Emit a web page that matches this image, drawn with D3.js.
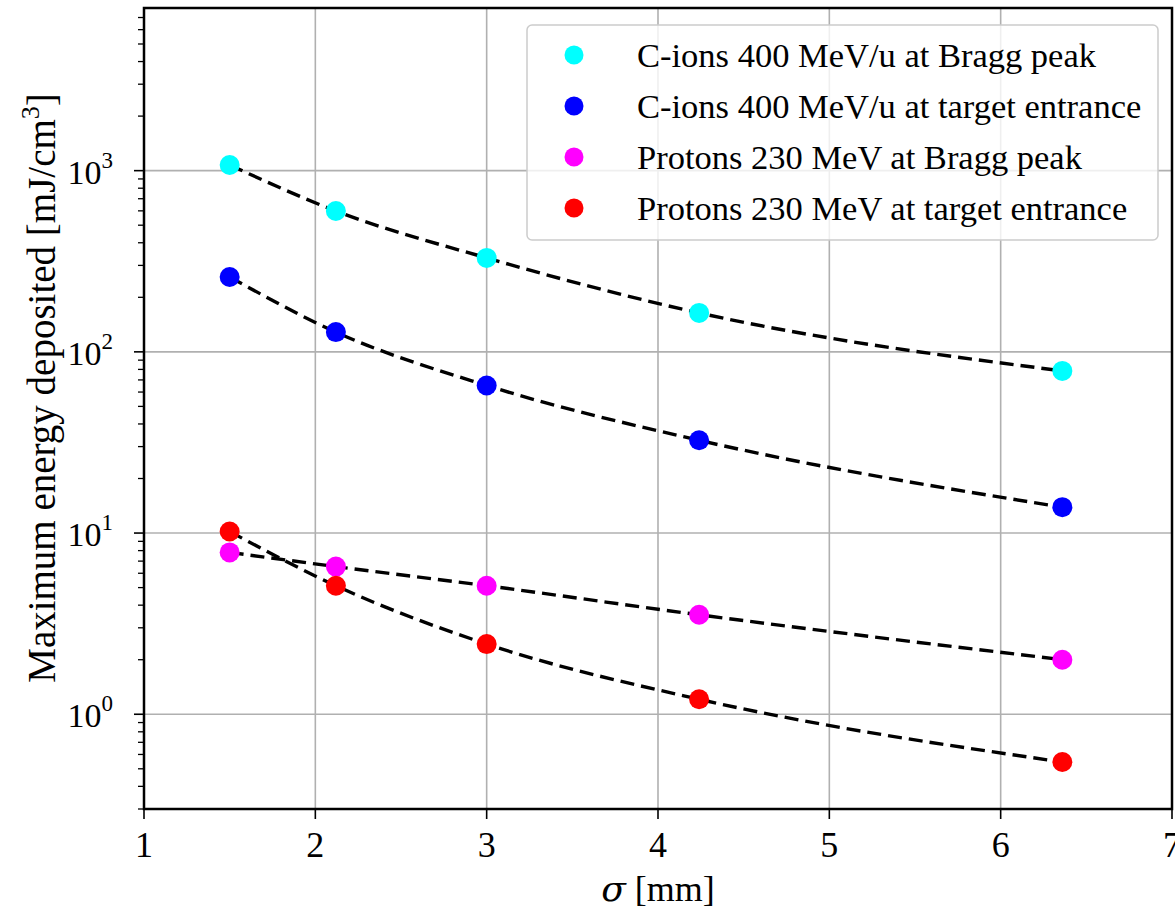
<!DOCTYPE html>
<html>
<head>
<meta charset="utf-8">
<script src="https://cdn.jsdelivr.net/npm/d3@7"></script>
<style>
  html, body { margin: 0; padding: 0; background: #fff; }
  svg { display: block; }
  text { font-family: "Liberation Serif", "Times New Roman", serif; fill: #000; }
</style>
</head>
<body>
<svg id="chart" width="1175" height="913"></svg>
<script>
// ---- data ----
const sigma = [1.5, 2.12, 3.0, 4.24, 6.36];
const cIonsBragg    = [1075, 599, 330, 164, 78.5];
const cIonsEntrance = [259, 128.5, 65.2, 32.5, 13.9];
const protonsBragg    = [7.82, 6.53, 5.12, 3.54, 2.0];
const protonsEntrance = [10.2, 5.12, 2.44, 1.21, 0.545];
const seriesNames = [
  "C-ions 400 MeV/u at Bragg peak",
  "C-ions 400 MeV/u at target entrance",
  "Protons 230 MeV at Bragg peak",
  "Protons 230 MeV at target entrance"
];
const seriesColors = ["#00ffff", "#0000ff", "#ff00ff", "#ff0000"];
const xTicks = [1, 2, 3, 4, 5, 6, 7];
const yMajorExps = [0, 1, 2, 3];

const series = [cIonsBragg, cIonsEntrance, protonsBragg, protonsEntrance].map((vals, i) => ({
  name: seriesNames[i], color: seriesColors[i],
  points: vals.map((v, j) => ({ x: sigma[j], y: v }))
}));

// ---- layout ----
const L = 144, R = 1172, T = 8, B = 809;
const svg = d3.select("#chart");
const x = d3.scaleLinear().domain([1, 7]).range([L, R]);
const y = d3.scaleLog().domain([0.3, 7900]).range([B, T]);

// grid
const grid = svg.append("g");
xTicks.slice(1, -1).forEach(t => {
  grid.append("line").attr("x1", x(t)).attr("x2", x(t)).attr("y1", T).attr("y2", B)
    .attr("stroke", "#b0b0b0").attr("stroke-width", 1.6);
});
yMajorExps.forEach(e => {
  grid.append("line").attr("x1", L).attr("x2", R).attr("y1", y(Math.pow(10, e))).attr("y2", y(Math.pow(10, e)))
    .attr("stroke", "#b0b0b0").attr("stroke-width", 1.6);
});

// minor y ticks
const minor = [];
for (let e = -1; e <= 3; e++) for (let m = 2; m <= 9; m++) {
  const v = m * Math.pow(10, e);
  if (v >= 0.3 && v <= 7900) minor.push(v);
}
svg.append("g").selectAll("line").data(minor).join("line")
  .attr("x1", L - 6).attr("x2", L).attr("y1", d => y(d)).attr("y2", d => y(d))
  .attr("stroke", "#000").attr("stroke-width", 1.3);
// major y ticks + labels
const yl = svg.append("g");
yMajorExps.forEach(e => {
  const yy = y(Math.pow(10, e));
  yl.append("line").attr("x1", L - 10).attr("x2", L).attr("y1", yy).attr("y2", yy)
    .attr("stroke", "#000").attr("stroke-width", 1.6);
  const t = yl.append("text").attr("x", 113).attr("y", yy + 13).attr("text-anchor", "end")
    .attr("font-size", 34);
  t.append("tspan").text("10");
  t.append("tspan").attr("dy", -16).attr("font-size", 23).text(e);
});
// x ticks + labels
const xl = svg.append("g");
xTicks.forEach(t => {
  xl.append("line").attr("x1", x(t)).attr("x2", x(t)).attr("y1", B).attr("y2", B + 10)
    .attr("stroke", "#000").attr("stroke-width", 1.6);
  xl.append("text").attr("x", x(t)).attr("y", 857).attr("text-anchor", "middle")
    .attr("font-size", 36).text(t);
});

// lines
const line = d3.line().x(d => x(d.x)).y(d => y(d.y)).curve(d3.curveMonotoneX);
svg.append("g").selectAll("path").data(series).join("path")
  .attr("d", d => line(d.points)).attr("fill", "none")
  .attr("stroke", "#000").attr("stroke-width", 3.4).attr("stroke-dasharray", "14,7");
// points
series.forEach(s => {
  svg.append("g").selectAll("circle").data(s.points).join("circle")
    .attr("cx", d => x(d.x)).attr("cy", d => y(d.y)).attr("r", 10).attr("fill", s.color);
});

// frame
svg.append("rect").attr("x", L).attr("y", T).attr("width", R - L).attr("height", B - T)
  .attr("fill", "none").attr("stroke", "#000").attr("stroke-width", 2.5);

// legend
const lg = svg.append("g");
lg.append("rect").attr("x", 527).attr("y", 25).attr("width", 631).attr("height", 215)
  .attr("rx", 5).attr("fill", "#fff").attr("fill-opacity", 0.8)
  .attr("stroke", "#cccccc").attr("stroke-width", 1.5);
series.forEach((s, i) => {
  const yy = 55 + i * 51;
  lg.append("circle").attr("cx", 574).attr("cy", yy).attr("r", 9.5).attr("fill", s.color);
  lg.append("text").attr("x", 637).attr("y", yy + 12).attr("font-size", 34.5).text(s.name);
});

// axis titles
const yt = svg.append("text").attr("transform", "translate(55,388) rotate(-90)")
  .attr("text-anchor", "middle").attr("font-size", 39);
yt.append("tspan").text("Maximum energy deposited [mJ/cm");
yt.append("tspan").attr("dy", -16).attr("font-size", 26).text("3");
yt.append("tspan").attr("dy", 16).text("]");

const xt = svg.append("text").attr("x", 658).attr("y", 901).attr("text-anchor", "middle").attr("font-size", 36);
xt.append("tspan").attr("font-family", "DejaVu Serif").attr("font-style", "italic").text("σ");
xt.append("tspan").text(" [mm]");
</script>
</body>
</html>
